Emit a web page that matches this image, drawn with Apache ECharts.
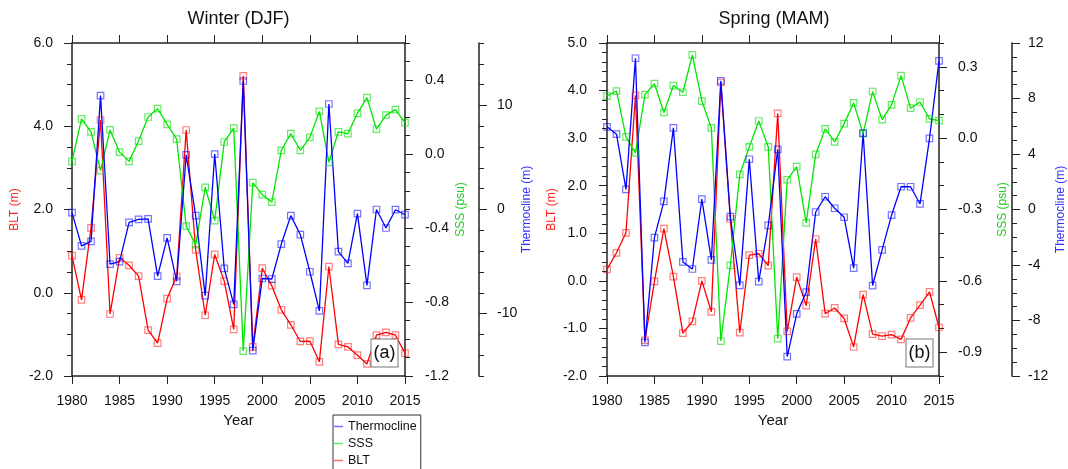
<!DOCTYPE html>
<html>
<head>
<meta charset="utf-8">
<script src="https://cdn.jsdelivr.net/npm/echarts@6/dist/echarts.min.js"></script>
<style>
html,body{margin:0;padding:0;background:#fff;}
#chart{width:1068px;height:469px;}
</style>
</head>
<body>
<div id="chart"></div>
<script>
// ---------------- data ----------------
const years = [1980,1981,1982,1983,1984,1985,1986,1987,1988,1989,1990,1991,1992,1993,1994,1995,1996,1997,
               1998,1999,2000,2001,2002,2003,2004,2005,2006,2007,2008,2009,2010,2011,2012,2013,2014,2015];

const winterBLT = [0.89,-0.17,1.56,4.15,-0.51,0.84,0.66,0.40,-0.90,-1.21,-0.14,0.39,3.91,1.03,-0.54,0.92,0.28,-0.88,
                   5.21,-1.30,0.59,0.17,-0.41,-0.77,-1.17,-1.16,-1.66,0.63,-1.24,-1.30,-1.50,-1.71,-1.02,-0.95,-1.02,-1.45];
const winterSSS = [-0.04,0.19,0.12,-0.09,0.13,0.01,-0.04,0.07,0.20,0.245,0.16,0.08,-0.39,-0.49,-0.18,-0.36,0.065,0.14,
                   -1.065,-0.155,-0.22,-0.26,0.02,0.11,0.02,0.09,0.23,-0.045,0.12,0.11,0.22,0.305,0.135,0.21,0.24,0.17];
const winterTherm = [-0.3,-3.5,-3.06,10.94,-5.24,-5.0,-1.23,-0.94,-0.91,-6.4,-2.72,-6.9,5.24,-0.58,-8.28,5.33,-5.65,-9.12,
                     12.35,-13.57,-6.63,-6.68,-3.32,-0.59,-2.42,-5.98,-9.75,10.14,-4.05,-5.17,-0.4,-7.29,0.0,-1.78,-0.02,-0.5];

const springBLT = [0.24,0.59,1.01,3.90,-1.25,-0.01,1.10,0.09,-1.10,-0.85,0.00,-0.65,4.17,1.30,-1.09,0.54,0.57,0.32,
                   3.52,-1.06,0.08,-0.52,0.88,-0.69,-0.57,-0.79,-1.39,-0.29,-1.12,-1.16,-1.13,-1.23,-0.78,-0.51,-0.23,-0.98];
const springSSS = [0.177,0.198,0.005,-0.062,0.183,0.229,0.108,0.221,0.193,0.35,0.156,0.043,-0.853,-0.535,-0.152,-0.037,0.072,-0.037,
                   -0.843,-0.175,-0.12,-0.356,-0.068,0.039,-0.016,0.061,0.148,0.019,0.196,0.078,0.14,0.263,0.126,0.152,0.081,0.074];
const springTherm = [5.96,5.43,1.45,10.9,-9.58,-2.03,0.59,5.88,-3.78,-4.29,0.75,-3.63,9.27,-0.52,-5.47,3.62,-5.2,-1.15,
                     4.33,-10.6,-7.52,-5.96,-0.18,0.92,0.09,-0.56,-4.23,5.5,-5.48,-2.91,-0.4,1.64,1.64,0.4,5.12,10.71];

// tick labels
const xTicks = [1980,1985,1990,1995,2000,2005,2010,2015];
const winterBLTTicks = [-2,0,2,4,6];
const winterSSSTicks = [-1.2,-0.8,-0.4,0.0,0.4];
const winterThermTicks = [-10,0,10];
const springBLTTicks = [-2,-1,0,1,2,3,4,5];
const springSSSTicks = [-0.9,-0.6,-0.3,0.0,0.3];
const springThermTicks = [-12,-8,-4,0,4,8,12];

const titles = ['Winter (DJF)', 'Spring (MAM)'];
const panelTags = ['(a)', '(b)'];
const names = {therm:'Thermocline', sss:'SSS', blt:'BLT'};

// ---------------- styling ----------------
const FONT = '"Liberation Sans", Arial, Helvetica, sans-serif';
const COL = {blue:'#0000ff', green:'#00e600', red:'#ff0000'};
const MARK = {blue:'rgba(0,0,255,0.55)', green:'rgba(0,220,0,0.6)', red:'rgba(255,0,0,0.5)'};
const AX = '#222';

const grids = [
  {left:72, top:43, width:333, height:333},
  {left:607, top:43, width:334, height:333}
];

function xPair(gi) {
  const common = {
    type:'value', gridIndex:gi, min:1980, max:2015, interval:5,
    axisLine:{show:true, onZero:false, lineStyle:{color:AX, width:1.5}},
    axisTick:{show:true, inside:false, length:8, lineStyle:{color:AX, width:1}},
    splitLine:{show:false}
  };
  return [
    Object.assign({}, common, {
      position:'bottom', name:'Year', nameLocation:'middle', nameGap:37,
      nameTextStyle:{fontSize:15, color:'#111', fontFamily:FONT},
      axisLabel:{show:true, fontSize:14, color:'#111', fontFamily:FONT, margin:18,
        customValues:xTicks, formatter: v => String(v)}
    }),
    Object.assign({}, common, {position:'top', axisLabel:{show:false}})
  ];
}

function yPair(gi, o) {
  const main = {
    type:'value', gridIndex:gi, position:o.position, offset:o.offset || 0,
    min:o.min, max:o.max,
    name:o.name, nameLocation:'middle', nameGap:o.nameGap,
    nameTextStyle:{color:o.nameColor, fontSize:12, fontFamily:FONT},
    axisLine:{show:true, onZero:false, lineStyle:{color:AX, width:1.5}},
    axisTick:{show:true, inside:false, length:8, customValues:o.majors, lineStyle:{color:AX, width:1}},
    axisLabel:{show:true, customValues:o.majors, fontSize:14, color:'#111', fontFamily:FONT,
      margin:o.margin, formatter:o.fmt},
    splitLine:{show:false}
  };
  const minor = {
    type:'value', gridIndex:gi, position:o.position, offset:o.offset || 0,
    min:o.min, max:o.max, interval:o.minor,
    axisLine:{show:false}, axisLabel:{show:false}, splitLine:{show:false},
    axisTick:{show:true, inside:false, length:5, lineStyle:{color:AX, width:1}}
  };
  return [main, minor];
}

const f1 = v => (Math.abs(v) < 1e-9 ? 0 : v).toFixed(1);
const f0 = v => String(Math.round(v));

const xAxes = [...xPair(0), ...xPair(1)];
const yAxes = [
  // panel a : 0..5
  ...yPair(0, {position:'left', min:-2, max:6, majors:winterBLTTicks, minor:0.5, fmt:f1, margin:19,
               name:'BLT (m)', nameColor:'#ff2020', nameGap:51}),
  ...yPair(0, {position:'right', min:-1.2, max:0.6, majors:winterSSSTicks, minor:0.1, fmt:f1, margin:20,
               name:'SSS (psu)', nameColor:'#22cc22', nameGap:50}),
  ...yPair(0, {position:'right', offset:74, min:-16, max:16, majors:winterThermTicks, minor:2, fmt:f0, margin:18,
               name:'Thermocline (m)', nameColor:'#3030ff', nameGap:40}),
  // panel b : 6..11
  ...yPair(1, {position:'left', min:-2, max:5, majors:springBLTTicks, minor:0.2, fmt:f1, margin:20,
               name:'BLT (m)', nameColor:'#ff2020', nameGap:49}),
  ...yPair(1, {position:'right', min:-1.0, max:0.4, majors:springSSSTicks, minor:0.1, fmt:f1, margin:19,
               name:'SSS (psu)', nameColor:'#22cc22', nameGap:58}),
  ...yPair(1, {position:'right', offset:73, min:-12, max:12, majors:springThermTicks, minor:1, fmt:f0, margin:16,
               name:'Thermocline (m)', nameColor:'#3030ff', nameGap:43})
];

function mkSeries(name, vals, xi, yi, c) {
  return {
    type:'line', name:name, xAxisIndex:xi, yAxisIndex:yi,
    data: years.map((y, i) => [y, vals[i]]),
    symbol:'rect', symbolSize:6.5, showSymbol:true,
    lineStyle:{color:COL[c], width:1.3},
    itemStyle:{color:'rgba(0,0,0,0)', borderColor:MARK[c], borderWidth:1.2},
    emphasis:{disabled:true}, silent:true, z:2
  };
}

const series = [
  mkSeries(names.blt, winterBLT, 0, 0, 'red'),
  mkSeries(names.sss, winterSSS, 0, 2, 'green'),
  mkSeries(names.therm, winterTherm, 0, 4, 'blue'),
  mkSeries(names.blt, springBLT, 2, 6, 'red'),
  mkSeries(names.sss, springSSS, 2, 8, 'green'),
  mkSeries(names.therm, springTherm, 2, 10, 'blue')
];

function tag(text, cx, cy) {
  return {type:'text', x:cx, y:cy, z:100,
    style:{text:text, fontSize:18, fontFamily:FONT, fill:'#111', align:'center', verticalAlign:'middle',
      backgroundColor:'#fff', borderColor:'#777', borderWidth:1, padding:[5,2,4,2]}};
}

const option = {
  animation:false,
  backgroundColor:'#fff',
  grid:grids,
  xAxis:xAxes,
  yAxis:yAxes,
  series:series,
  legend:{
    orient:'vertical', left:333, top:415, width:85, height:80,
    icon:'rect', itemWidth:9, itemHeight:1.5, itemGap:4,
    padding:[5,4,12,1], borderColor:'#333', borderWidth:1, backgroundColor:'#fff',
    textStyle:{fontSize:12.5, color:'#111', fontFamily:FONT},
    selectedMode:false,
    data:[
      {name:names.therm, itemStyle:{color:'rgba(80,80,255,0.8)', borderWidth:0}},
      {name:names.sss, itemStyle:{color:'rgba(60,230,60,0.8)', borderWidth:0}},
      {name:names.blt, itemStyle:{color:'rgba(255,80,80,0.8)', borderWidth:0}}
    ]
  },
  graphic:[
    {type:'text', x:238.5, y:19, style:{text:titles[0], fontSize:18, fontFamily:FONT, fill:'#111', align:'center', verticalAlign:'middle'}},
    {type:'text', x:774, y:19, style:{text:titles[1], fontSize:18, fontFamily:FONT, fill:'#111', align:'center', verticalAlign:'middle'}},
    tag(panelTags[0], 384.5, 353),
    tag(panelTags[1], 919.5, 353)
  ]
};

const chart = echarts.init(document.getElementById('chart'), null, {renderer:'canvas'});
chart.setOption(option);
</script>
</body>
</html>
